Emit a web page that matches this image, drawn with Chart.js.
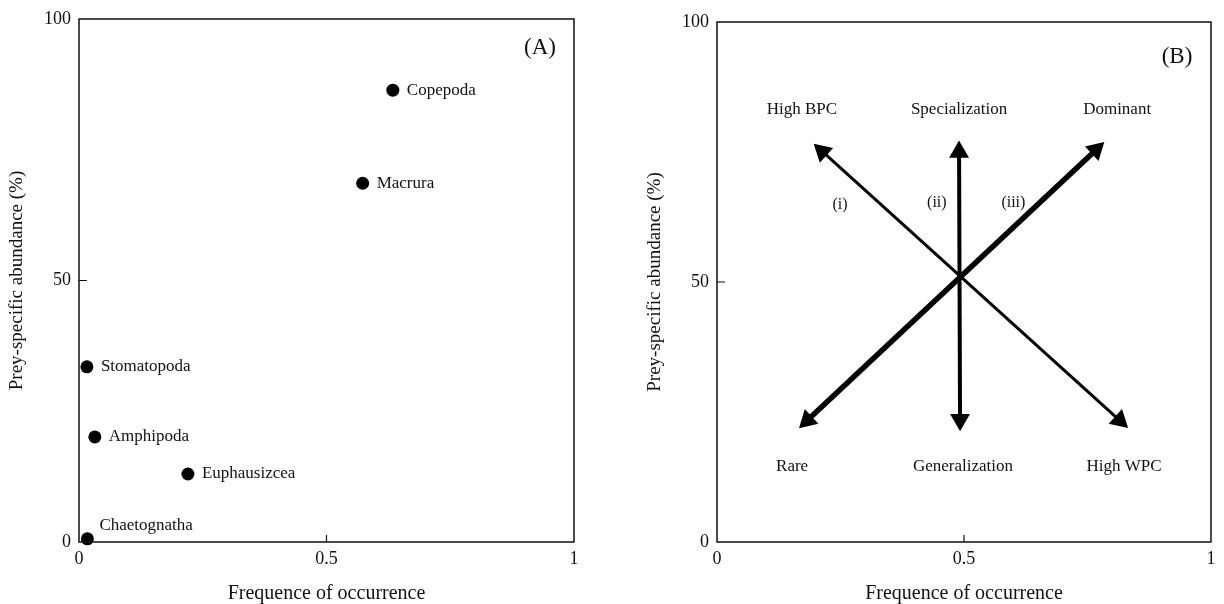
<!DOCTYPE html>
<html><head><meta charset="utf-8">
<script src="https://cdn.jsdelivr.net/npm/chart.js@4.4.1/dist/chart.umd.min.js"></script>
<style>
html,body{margin:0;padding:0;background:#fff;width:1224px;height:604px;overflow:hidden}
#ca{position:absolute;left:0;top:0}
#cb{position:absolute;left:638px;top:0}
</style></head><body>
<canvas id="ca" width="612" height="604"></canvas>
<canvas id="cb" width="586" height="604"></canvas>
<script>
// ---- data ----
const preyNames = ['Copepoda','Macrura','Stomatopoda','Amphipoda','Euphausizcea','Chaetognatha'];
const preyFreq  = [0.634, 0.573, 0.016, 0.032, 0.22, 0.017];
const preyAbund = [86.4, 68.6, 33.5, 20.1, 13.0, 0.6];
const xTicks = [0, 0.5, 1];
const yTicks = [0, 50, 100];
const arrowNames  = ['(i)', '(ii)', '(iii)'];
const arrowX      = [[0.213, 0.815], [0.490, 0.492], [0.183, 0.767]];
const arrowY      = [[75.1, 23.4], [75.0, 23.5], [23.4, 75.4]];
const arrowLabelX = [0.249, 0.445, 0.600];
const arrowLabelY = [64.8, 65.2, 65.2];
const quadLabels = ['High BPC','Specialization','Dominant','Rare','Generalization','High WPC'];
const quadX      = [0.172, 0.490, 0.810, 0.152, 0.498, 0.824];
const quadY      = [83.1, 83.1, 83.1, 14.6, 14.6, 14.6];

const SERIF = '"Liberation Serif", "Times New Roman", serif';
const INK = '#111';

function makeScales() {
  return {
    x: {
      type: 'linear', min: 0, max: 1,
      afterBuildTicks: s => { s.ticks = xTicks.map(v => ({value: v})); },
      afterFit: s => { s.height = 62; },
      grid: {display: false, drawTicks: false}, border: {display: false},
      ticks: {font: {family: SERIF, size: 18}, color: INK, padding: 6, maxRotation: 0,
              callback: v => String(v)},
      title: {display: true, text: 'Frequence of occurrence', font: {family: SERIF, size: 20, lineHeight: 1},
              color: INK, padding: {top: 0, bottom: 0}}
    },
    y: {
      type: 'linear', min: 0, max: 100,
      afterBuildTicks: s => { s.ticks = yTicks.map(v => ({value: v})); },
      afterFit: s => { s.width = 79; },
      grid: {display: false, drawTicks: false}, border: {display: false},
      ticks: {font: {family: SERIF, size: 18}, color: INK, padding: 8,
              callback: v => String(v)},
      title: {display: true, text: 'Prey-specific abundance (%)', font: {family: SERIF, size: 19},
              color: INK, padding: {top: 5.5, bottom: 4}}
    }
  };
}

function framePlugin(panelLabel, dxFromRight, dyFromTop) {
  return {
    id: 'frame' + panelLabel,
    afterDraw(chart) {
      const {ctx, chartArea: a, scales: {x, y}} = chart;
      ctx.save();
      ctx.strokeStyle = '#111';
      ctx.lineWidth = 1.5;
      ctx.strokeRect(a.left, a.top, a.right - a.left, a.bottom - a.top);
      ctx.lineWidth = 1.2;
      ctx.beginPath();
      xTicks.forEach(v => { if (v > 0 && v < 1) { const px = x.getPixelForValue(v); ctx.moveTo(px, a.bottom); ctx.lineTo(px, a.bottom - 7); } });
      yTicks.forEach(v => { if (v > 0 && v < 100) { const py = y.getPixelForValue(v); ctx.moveTo(a.left, py); ctx.lineTo(a.left + 8, py); } });
      ctx.stroke();
      ctx.fillStyle = INK;
      ctx.font = '23px ' + SERIF;
      ctx.textAlign = 'center';
      ctx.textBaseline = 'middle';
      ctx.fillText(panelLabel, a.right - dxFromRight, a.top + dyFromTop);
      ctx.restore();
    }
  };
}

// ---- Panel A ----
const preyLabels = {
  id: 'preyLabels',
  afterDatasetsDraw(chart) {
    const {ctx} = chart;
    const meta = chart.getDatasetMeta(0);
    ctx.save();
    ctx.fillStyle = INK;
    ctx.font = '17px ' + SERIF;
    ctx.textAlign = 'left';
    ctx.textBaseline = 'middle';
    meta.data.forEach((pt, i) => {
      const name = preyNames[i];
      if (name === 'Chaetognatha') ctx.fillText(name, pt.x + 12, pt.y - 13);
      else ctx.fillText(name, pt.x + 14, pt.y);
    });
    ctx.restore();
  }
};

new Chart(document.getElementById('ca'), {
  type: 'scatter',
  data: {
    datasets: [{
      data: preyFreq.map((f, i) => ({x: f, y: preyAbund[i]})),
      backgroundColor: '#000', borderColor: '#000',
      pointRadius: 6.5, pointBorderWidth: 0, clip: false
    }]
  },
  options: {
    responsive: false, animation: false, events: [], devicePixelRatio: 1,
    layout: {padding: {top: 19, right: 38, left: 0, bottom: 0}},
    plugins: {legend: {display: false}, tooltip: {enabled: false}},
    scales: makeScales()
  },
  plugins: [framePlugin('(A)', 34, 29), preyLabels]
});

// ---- Panel B ----
const arrowRotation = (c) => {
  const ch = c.chart;
  const d = ch.data.datasets[c.datasetIndex].data;
  const i = c.dataIndex;
  const p = d[i], o = d[1 - i];
  const xs = ch.scales.x, ys = ch.scales.y;
  const dx = xs.getPixelForValue(p.x) - xs.getPixelForValue(o.x);
  const dy = ys.getPixelForValue(p.y) - ys.getPixelForValue(o.y);
  return Math.atan2(dx, -dy) * 180 / Math.PI;
};
const arrowWidths = [3, 4, 5.5];

const bLabels = {
  id: 'bLabels',
  afterDatasetsDraw(chart) {
    const {ctx, scales: {x, y}} = chart;
    ctx.save();
    ctx.fillStyle = INK;
    ctx.textAlign = 'center';
    ctx.textBaseline = 'middle';
    ctx.font = '17px ' + SERIF;
    quadLabels.forEach((t, i) => ctx.fillText(t, x.getPixelForValue(quadX[i]), y.getPixelForValue(quadY[i])));
    ctx.font = '16px ' + SERIF;
    arrowNames.forEach((t, i) => ctx.fillText(t, x.getPixelForValue(arrowLabelX[i]), y.getPixelForValue(arrowLabelY[i])));
    ctx.restore();
  }
};

new Chart(document.getElementById('cb'), {
  type: 'scatter',
  data: {
    datasets: arrowNames.map((n, k) => ({
      label: n,
      data: arrowX[k].map((xv, j) => ({x: xv, y: arrowY[k][j]})),
      showLine: true,
      borderColor: '#000', backgroundColor: '#000',
      borderWidth: arrowWidths[k],
      pointStyle: 'triangle', pointRadius: 11.5, pointBorderWidth: 0,
      pointBackgroundColor: '#000',
      rotation: arrowRotation,
      clip: false
    }))
  },
  options: {
    responsive: false, animation: false, events: [], devicePixelRatio: 1,
    layout: {padding: {top: 22, right: 13, left: 0, bottom: 0}},
    plugins: {legend: {display: false}, tooltip: {enabled: false}},
    scales: makeScales()
  },
  plugins: [framePlugin('(B)', 34, 35), bLabels]
});
</script>
</body></html>
